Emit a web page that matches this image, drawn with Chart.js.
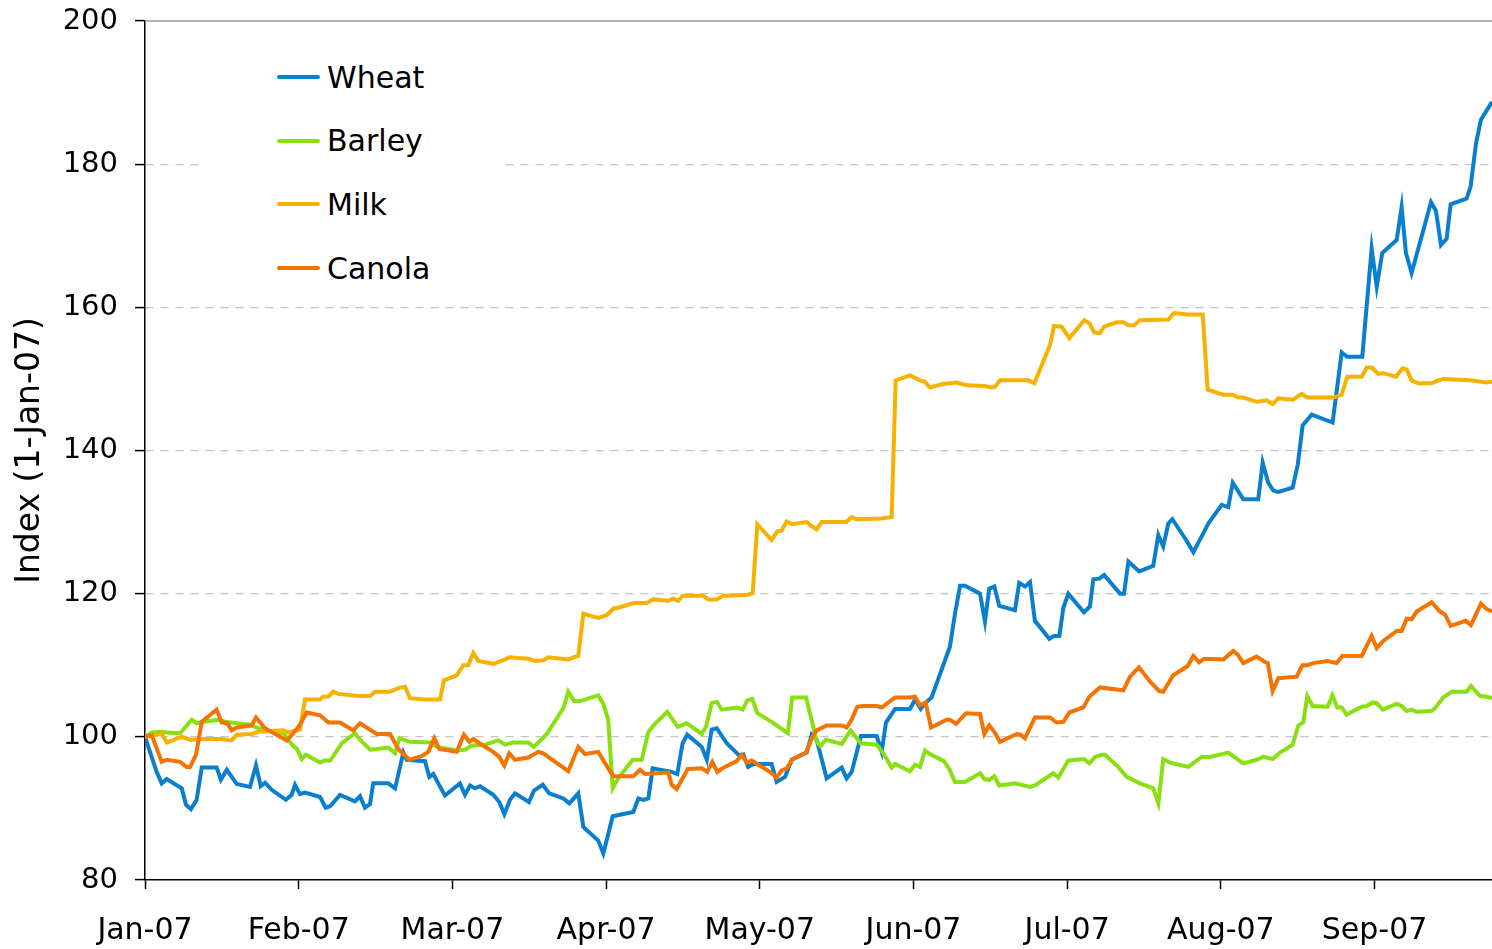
<!DOCTYPE html>
<html>
<head>
<meta charset="utf-8">
<script src="https://cdn.jsdelivr.net/npm/chart.js@4.4.1/dist/chart.umd.min.js"></script>
<style>
  body { margin: 0; background: #fff; }
  #wrap { position: relative; width: 1492px; height: 949px; }
  #legend {
    position: absolute; left: 200px; top: 42px; width: 305px; height: 252px;
    background: #fff; font-family: "DejaVu Sans", sans-serif; font-size: 30px; color: #000;
  }
  .item { position: absolute; left: 77px; height: 36px; display: flex; align-items: center; }
  .swatch { width: 43px; height: 4px; border-radius: 2px; margin-right: 7px; }
</style>
</head>
<body>
<div id="wrap">
  <canvas id="chart" width="1492" height="949"></canvas>
  <div id="legend"></div>
</div>
<script>
// month ticks on the x axis (each month is one unit)
const monthLabels = ['Jan-07', 'Feb-07', 'Mar-07', 'Apr-07', 'May-07', 'Jun-07', 'Jul-07', 'Aug-07', 'Sep-07'];
const lastMonth = 8.764;   // about 23 Sep

// [position in months since 1-Jan-07, index]
const wheat = [[0,100],[0.076,95.1],[0.109,93.5],[0.141,94.1],[0.239,92.8],[0.267,90.5],[0.299,89.9],[0.336,91.2],[0.369,95.7],[0.466,95.7],[0.494,94.0],[0.532,95.4],[0.597,93.4],[0.683,93.0],[0.722,96.0],[0.753,93.1],[0.781,93.6],[0.824,92.6],[0.917,91.2],[0.954,91.9],[0.976,93.3],[1.008,92.0],[1.041,92.2],[1.139,91.6],[1.176,90.1],[1.204,90.3],[1.269,91.9],[1.366,91.0],[1.399,91.7],[1.431,90.1],[1.464,90.6],[1.485,93.5],[1.583,93.5],[1.627,92.8],[1.681,97.8],[1.703,96.8],[1.822,96.6],[1.837,95.4],[1.850,94.4],[1.876,94.8],[1.908,93.5],[1.952,91.8],[2.049,93.5],[2.082,91.9],[2.115,93.2],[2.147,92.8],[2.180,93.1],[2.266,91.9],[2.305,90.9],[2.338,89.2],[2.375,91.2],[2.407,92.1],[2.498,90.9],[2.531,92.5],[2.588,93.3],[2.630,92.1],[2.722,91.4],[2.761,90.7],[2.819,92.1],[2.852,87.4],[2.949,85.5],[2.982,83.7],[3.043,88.9],[3.177,89.5],[3.210,91.4],[3.242,91.2],[3.275,91.4],[3.303,95.6],[3.427,95.1],[3.463,94.8],[3.498,99.1],[3.528,100.3],[3.622,98.6],[3.655,96.8],[3.687,101.0],[3.720,101.2],[3.785,99.1],[3.871,97.3],[3.893,97.5],[3.925,95.8],[3.958,96.2],[4.077,96.2],[4.110,93.7],[4.164,94.4],[4.208,96.8],[4.305,97.8],[4.338,100.3],[4.370,99.6],[4.435,94.2],[4.533,95.7],[4.565,94.2],[4.598,95.1],[4.658,100.1],[4.761,100.1],[4.793,97.9],[4.821,102.0],[4.880,103.9],[4.977,103.9],[5.010,105.2],[5.047,103.9],[5.081,104.8],[5.118,105.5],[5.237,112.6],[5.270,117.2],[5.303,121.1],[5.335,121.1],[5.433,120.0],[5.465,116.1],[5.493,120.7],[5.526,121.0],[5.558,118.3],[5.660,117.7],[5.688,121.5],[5.725,121.0],[5.758,121.6],[5.790,116.2],[5.884,113.7],[5.914,114.1],[5.949,114.1],[5.975,118.0],[6.007,120.0],[6.109,117.4],[6.148,118.2],[6.170,122.0],[6.209,122.1],[6.240,122.6],[6.344,120.0],[6.370,120.0],[6.398,124.5],[6.469,123.1],[6.560,123.9],[6.593,128.2],[6.625,126.6],[6.658,129.8],[6.684,130.4],[6.777,127.4],[6.821,125.8],[6.875,128.0],[6.918,129.8],[7.005,132.4],[7.048,132.1],[7.077,135.5],[7.146,133.2],[7.243,133.2],[7.272,138.3],[7.308,135.5],[7.341,134.4],[7.374,134.2],[7.467,134.8],[7.500,138.0],[7.532,143.5],[7.591,145.0],[7.727,143.9],[7.786,153.7],[7.822,153.1],[7.920,153.1],[7.981,168.2],[8.014,162.9],[8.050,167.6],[8.144,169.4],[8.176,174.0],[8.204,167.6],[8.241,164.8],[8.367,174.7],[8.399,173.5],[8.432,168.7],[8.469,169.6],[8.495,174.4],[8.599,175.2],[8.625,176.9],[8.660,182.9],[8.692,186.2],[8.764,188.7]];

const barley = [[0,100],[0.044,100.6],[0.109,100.7],[0.141,100.6],[0.228,100.5],[0.304,102.4],[0.336,101.9],[0.379,102.1],[0.488,102.4],[0.520,102.1],[0.597,101.9],[0.683,101.7],[0.716,101.4],[0.781,100.9],[0.900,100.5],[0.932,99.6],[0.965,98.7],[0.987,98.4],[1.020,96.9],[1.047,97.5],[1.139,96.4],[1.171,96.7],[1.204,96.7],[1.225,97.3],[1.280,99.1],[1.366,100.5],[1.399,99.6],[1.464,98.2],[1.583,98.5],[1.627,97.7],[1.655,99.8],[1.724,99.3],[1.854,99.2],[1.898,98.6],[2.028,98.1],[2.082,98.2],[2.126,98.8],[2.212,98.9],[2.299,99.5],[2.342,98.9],[2.396,99.2],[2.494,99.2],[2.531,98.6],[2.614,100.4],[2.722,104.0],[2.754,106.3],[2.791,105.0],[2.830,105.0],[2.949,105.8],[2.982,104.6],[3.014,102.4],[3.043,92.8],[3.079,94.2],[3.173,96.8],[3.232,96.8],[3.275,100.7],[3.318,101.8],[3.398,103.5],[3.466,101.4],[3.524,101.9],[3.622,100.4],[3.650,101.4],[3.687,104.7],[3.720,104.9],[3.752,103.8],[3.850,104.1],[3.889,103.8],[3.919,105.1],[3.951,105.3],[3.984,103.3],[4.077,102.1],[4.182,100.5],[4.211,105.5],[4.301,105.5],[4.348,101.4],[4.370,99.3],[4.396,98.7],[4.429,99.6],[4.533,99.0],[4.591,100.9],[4.656,99.1],[4.761,98.9],[4.804,97.7],[4.858,95.7],[4.880,96.2],[4.977,95.2],[5.010,96.1],[5.042,95.8],[5.075,98.1],[5.107,97.6],[5.198,96.6],[5.233,95.5],[5.270,93.7],[5.335,93.7],[5.433,94.9],[5.461,94.1],[5.493,94.0],[5.526,94.5],[5.558,93.2],[5.660,93.5],[5.758,93.0],[5.790,93.2],[5.910,94.9],[5.942,94.3],[6.007,96.7],[6.109,96.9],[6.144,96.3],[6.181,97.2],[6.224,97.5],[6.246,97.5],[6.332,95.8],[6.387,94.4],[6.474,93.5],[6.560,92.8],[6.593,90.7],[6.625,96.9],[6.669,96.4],[6.788,95.8],[6.875,97.2],[6.929,97.2],[7.048,97.8],[7.146,96.3],[7.233,96.8],[7.276,97.2],[7.337,96.9],[7.385,97.8],[7.467,98.9],[7.504,101.6],[7.536,102.0],[7.562,105.7],[7.597,104.3],[7.695,104.2],[7.725,105.8],[7.757,104.1],[7.786,104.1],[7.818,103.1],[7.916,104.2],[7.949,104.3],[7.988,104.8],[8.014,104.7],[8.053,103.8],[8.144,104.6],[8.176,104.3],[8.209,103.6],[8.241,103.8],[8.274,103.5],[8.371,103.6],[8.393,104.0],[8.447,105.5],[8.502,106.3],[8.599,106.3],[8.627,107.1],[8.686,105.7],[8.729,105.6],[8.764,105.4]];

const milk = [[0,100],[0.087,100.3],[0.109,100.5],[0.141,99.2],[0.239,100.0],[0.293,99.6],[0.379,99.7],[0.488,99.7],[0.564,99.5],[0.597,100.3],[0.694,100.4],[0.737,100.7],[0.900,100.9],[0.932,100.6],[1.008,101.0],[1.041,105.2],[1.139,105.2],[1.156,105.6],[1.193,105.6],[1.225,106.3],[1.258,106.0],[1.388,105.7],[1.464,105.7],[1.496,106.3],[1.594,106.3],[1.648,106.8],[1.692,107.0],[1.724,105.4],[1.822,105.2],[1.919,105.2],[1.945,107.9],[2.028,108.6],[2.071,110.0],[2.103,110.0],[2.136,111.7],[2.169,110.6],[2.266,110.2],[2.331,110.7],[2.370,111.1],[2.494,110.9],[2.537,110.6],[2.591,110.7],[2.624,111.1],[2.754,110.8],[2.787,111.1],[2.819,111.3],[2.852,117.2],[2.949,116.6],[3.004,117.0],[3.047,117.9],[3.090,118.1],[3.177,118.7],[3.264,118.7],[3.307,119.2],[3.405,119.0],[3.437,119.3],[3.470,119.0],[3.498,119.7],[3.632,119.7],[3.665,119.2],[3.720,119.2],[3.763,119.7],[3.915,119.8],[3.954,120.1],[3.984,129.7],[4.077,127.5],[4.114,128.7],[4.142,128.8],[4.175,130.1],[4.208,129.7],[4.305,130.0],[4.338,129.4],[4.370,129.0],[4.403,130.0],[4.561,130.0],[4.598,130.7],[4.630,130.4],[4.793,130.5],[4.858,130.7],[4.884,149.8],[4.977,150.5],[5.042,149.8],[5.075,149.6],[5.107,148.8],[5.194,149.3],[5.281,149.5],[5.346,149.1],[5.465,149.0],[5.509,148.8],[5.530,148.9],[5.563,149.8],[5.747,149.8],[5.786,149.4],[5.888,154.7],[5.914,157.4],[5.964,157.3],[6.014,155.7],[6.111,158.2],[6.144,157.8],[6.176,156.5],[6.213,156.4],[6.240,157.3],[6.322,157.9],[6.365,157.9],[6.398,157.5],[6.435,157.5],[6.474,158.2],[6.658,158.3],[6.695,159.2],[6.788,159.0],[6.882,159.0],[6.914,148.5],[7.016,147.8],[7.077,147.8],[7.113,147.4],[7.146,147.4],[7.233,146.8],[7.298,147.0],[7.337,146.5],[7.374,147.3],[7.467,147.1],[7.526,147.9],[7.562,147.4],[7.731,147.4],[7.786,147.8],[7.822,150.3],[7.916,150.3],[7.949,151.6],[7.981,151.6],[8.024,150.7],[8.056,150.8],[8.139,150.3],[8.183,151.5],[8.209,151.3],[8.241,149.8],[8.284,149.4],[8.371,149.4],[8.414,149.8],[8.447,150.0],[8.621,149.8],[8.729,149.5],[8.764,149.6]];

const canola = [[0,100],[0.044,100.2],[0.109,96.5],[0.141,96.8],[0.228,96.5],[0.271,95.8],[0.293,95.8],[0.332,97.5],[0.369,102.1],[0.466,103.8],[0.499,102.0],[0.535,101.9],[0.564,100.9],[0.597,101.3],[0.694,101.6],[0.722,102.7],[0.781,101.2],[0.922,99.5],[0.965,100.5],[1.008,101.7],[1.052,103.4],[1.139,103.0],[1.193,102.0],[1.269,102.0],[1.355,100.9],[1.399,101.9],[1.508,100.4],[1.594,100.4],[1.648,98.3],[1.720,96.8],[1.800,97.3],[1.843,97.9],[1.882,99.8],[1.915,98.3],[2.028,97.9],[2.075,100.3],[2.110,99.3],[2.136,99.7],[2.191,98.9],[2.266,97.9],[2.305,97.2],[2.338,96.0],[2.370,97.7],[2.407,96.8],[2.494,97.1],[2.559,97.9],[2.591,97.7],[2.754,95.2],[2.819,98.6],[2.863,97.6],[2.949,97.9],[3.014,95.6],[3.047,94.5],[3.177,94.5],[3.221,95.4],[3.253,94.8],[3.405,95.0],[3.427,93.3],[3.459,92.7],[3.531,95.5],[3.622,95.6],[3.658,95.1],[3.691,96.5],[3.724,95.1],[3.763,95.7],[3.850,96.6],[3.882,97.5],[3.915,96.4],[3.947,96.7],[4.066,95.1],[4.110,94.3],[4.142,95.3],[4.175,95.6],[4.214,96.9],[4.301,97.8],[4.338,99.8],[4.370,100.9],[4.435,101.6],[4.533,101.6],[4.565,101.3],[4.598,102.4],[4.634,104.2],[4.674,104.3],[4.761,104.3],[4.793,104.1],[4.880,105.5],[4.977,105.5],[5.010,105.6],[5.042,104.4],[5.079,104.8],[5.114,101.3],[5.216,102.4],[5.237,102.4],[5.277,101.8],[5.342,103.3],[5.433,103.2],[5.461,100.4],[5.493,101.6],[5.526,100.7],[5.563,99.3],[5.671,100.4],[5.697,100.3],[5.725,99.8],[5.790,102.7],[5.888,102.7],[5.932,102.0],[5.975,102.1],[6.014,103.4],[6.105,104.1],[6.144,105.6],[6.213,106.9],[6.365,106.5],[6.409,108.4],[6.467,109.7],[6.539,107.7],[6.599,106.4],[6.625,106.3],[6.690,108.6],[6.784,109.9],[6.821,111.3],[6.858,110.4],[6.892,110.9],[7.016,110.8],[7.081,112.0],[7.113,111.4],[7.146,110.3],[7.233,111.2],[7.276,110.6],[7.305,110.3],[7.337,106.4],[7.374,108.2],[7.493,108.4],[7.530,110.0],[7.562,110.0],[7.601,110.3],[7.695,110.6],[7.753,110.3],[7.790,111.3],[7.916,111.3],[7.981,114.1],[8.014,112.4],[8.057,113.4],[8.144,114.8],[8.176,114.8],[8.209,116.5],[8.241,116.4],[8.274,117.5],[8.371,118.8],[8.425,117.5],[8.458,117.1],[8.495,115.5],[8.593,116.2],[8.627,115.6],[8.692,118.6],[8.725,117.9],[8.764,117.5]];

const seriesNames = ['Wheat', 'Barley', 'Milk', 'Canola'];
const seriesColors = ['#0A7FCE', '#88E010', '#F7B200', '#F57300'];

const FONT = '"DejaVu Sans", Verdana, sans-serif';

function toPoints(list) {
    return list.map(p => ({ x: p[0], y: p[1] }));
}

// solid grey line along the top of the plot
const topFrame = {
    id: 'topFrame',
    afterDraw(chart) {
        const { ctx, chartArea } = chart;
        ctx.save();
        ctx.strokeStyle = '#9a9a9a';
        ctx.lineWidth = 1.5;
        ctx.beginPath();
        ctx.moveTo(chartArea.left, chartArea.top);
        ctx.lineTo(chartArea.right, chartArea.top);
        ctx.stroke();
        ctx.restore();
    }
};

const ctx = document.getElementById('chart').getContext('2d');
const chart = new Chart(ctx, {
    type: 'line',
    data: {
        datasets: [wheat, barley, milk, canola].map((s, i) => ({
            label: seriesNames[i],
            data: toPoints(s),
            borderColor: seriesColors[i],
            backgroundColor: seriesColors[i],
            borderWidth: 4,
            pointRadius: 0,
            tension: 0,
            fill: false,
            order: 3 - i
        }))
    },
    options: {
        responsive: false,
        animation: false,
        layout: { padding: { top: 21, right: 0, left: 0, bottom: 0 } },
        plugins: {
            legend: { display: false },
            tooltip: { enabled: false }
        },
        scales: {
            x: {
                type: 'linear',
                min: 0,
                max: lastMonth,
                afterBuildTicks: s => { s.ticks = monthLabels.map((_, i) => ({ value: i })); },
                afterFit: s => { s.height = 69; },
                ticks: {
                    callback: v => monthLabels[v],
                    font: { family: FONT, size: 30 },
                    color: '#000',
                    padding: 24,
                    maxRotation: 0,
                    autoSkip: false
                },
                grid: { drawOnChartArea: false, drawTicks: true, tickLength: 9, tickColor: '#000', tickWidth: 1.5 },
                border: { color: '#000', width: 1.5 }
            },
            y: {
                min: 80,
                max: 200,
                // fixed axis width; no extra room above the top label
                afterFit: s => { s.width = 145; s.paddingTop = 0; },
                ticks: {
                    stepSize: 20,
                    font: { family: FONT, size: 29 },
                    color: '#000',
                    padding: 17
                },
                grid: {
                    color: c => (c.tick && (c.tick.value === 80 || c.tick.value === 200)) ? 'rgba(0,0,0,0)' : '#c4c4c4',
                    lineWidth: 1.2,
                    tickColor: '#000',
                    tickLength: 10,
                    tickWidth: 1.5
                },
                border: { color: '#000', width: 1.5, dash: [8, 7] },
                title: {
                    display: true,
                    text: 'Index (1-Jan-07)',
                    font: { family: FONT, size: 33 },
                    color: '#000',
                    padding: { top: 11, bottom: 0 }
                }
            }
        }
    },
    plugins: [topFrame]
});

// legend inside the plot, with a white box
const legendBox = document.getElementById('legend');
chart.data.datasets.forEach((ds, i) => {
    const item = document.createElement('div');
    item.className = 'item';
    item.style.top = (17 + i * 63.7) + 'px';
    const sw = document.createElement('span');
    sw.className = 'swatch';
    sw.style.background = ds.borderColor;
    const label = document.createElement('span');
    label.textContent = ds.label;
    item.appendChild(sw);
    item.appendChild(label);
    legendBox.appendChild(item);
});
</script>
</body>
</html>
